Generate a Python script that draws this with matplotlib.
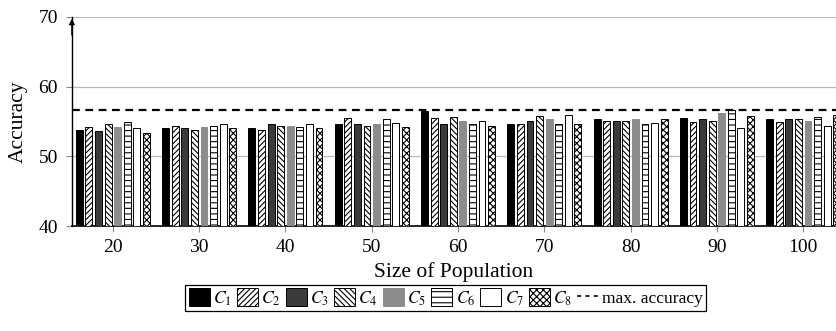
import numpy as np
import matplotlib
matplotlib.use('Agg')
import matplotlib.pyplot as plt
from matplotlib.patches import Patch
from matplotlib.lines import Line2D

plt.rcParams['font.family'] = ['Liberation Serif', 'DejaVu Serif']
plt.rcParams['mathtext.fontset'] = 'stix'
plt.rcParams['hatch.linewidth'] = 0.8

# population sizes
sizes = [20, 30, 40, 50, 60, 70, 80, 90, 100]

# accuracy per classifier
c1 = [53.8, 54.1, 54.0, 54.7, 56.5, 54.7, 55.3, 55.5, 55.3]
c2 = [54.2, 54.4, 53.8, 55.5, 55.5, 54.7, 55.0, 54.9, 54.9]
c3 = [53.7, 54.0, 54.6, 54.6, 54.6, 55.0, 55.0, 55.3, 55.3]
c4 = [54.6, 53.8, 54.4, 54.4, 55.6, 55.8, 55.0, 55.0, 55.3]
c5 = [54.2, 54.2, 54.4, 54.6, 55.1, 55.3, 55.3, 56.2, 55.0]
c6 = [54.9, 54.4, 54.2, 55.4, 54.6, 54.6, 54.6, 56.7, 55.6]
c7 = [54.1, 54.6, 54.6, 54.8, 55.0, 55.9, 54.8, 54.1, 54.4]
c8 = [53.3, 54.0, 54.1, 54.2, 54.4, 54.7, 55.3, 55.8, 56.0]
max_acc = 56.7

series = [c1, c2, c3, c4, c5, c6, c7, c8]
labels = [r'$C_{%d}$' % (i + 1) for i in range(8)]
faces = ['black', 'white', '#3a3a3a', 'white', '#8c8c8c', 'white', 'white', 'white']
edges = ['black', 'black', 'black', 'black', '#8c8c8c', 'black', 'black', 'black']
hatches = [None, '//////', None, '\\\\\\\\\\\\', None, '---', None, 'xxxxx']

fig = plt.figure(figsize=(8.36, 3.31), dpi=100)
ax = fig.add_axes([0.086, 0.317, 0.914, 0.632])

x = np.array(sizes, dtype=float)
step = 1.11
width = 0.8
for i, vals in enumerate(series):
    ax.bar(x + (i - 3.5) * step, np.array(vals) - 40, bottom=40, width=width,
           color=faces[i], edgecolor=edges[i], hatch=hatches[i], linewidth=0.7,
           zorder=3)

ax.axhline(max_acc, color='black', linestyle=(0, (3.5, 2.5)), linewidth=1.6, zorder=4)

ax.set_xlim(15.25, 103.8)
ax.set_ylim(40, 70)
ax.set_yticks([40, 50, 60, 70])
ax.set_xticks(sizes)
ax.yaxis.grid(True, color='#bbbbbb', linewidth=0.9, zorder=0)
ax.tick_params(axis='both', labelsize=14, color='#888888', length=4, width=0.8)
ax.tick_params(axis='y', pad=6)
ax.tick_params(axis='x', pad=5)

for s in ['top', 'right']:
    ax.spines[s].set_visible(False)
ax.spines['left'].set_linewidth(1.0)
ax.spines['bottom'].set_linewidth(1.2)
ax.annotate('', xy=(0, 1.005), xytext=(0, 0.9), xycoords='axes fraction',
            arrowprops=dict(arrowstyle='-|>', color='black', lw=1.0,
                            mutation_scale=8))

ax.set_xlabel('Size of Population', fontsize=15.5, labelpad=5)
ax.set_ylabel('Accuracy', fontsize=15.5, labelpad=8)

handles = [Patch(facecolor=faces[i], edgecolor=edges[i], hatch=hatches[i],
                 linewidth=0.7) for i in range(8)]
handles.append(Line2D([0], [0], color='black', linestyle=(0, (2.5, 2.5)), linewidth=1.2))
leg = fig.legend(handles, labels + ['max. accuracy'], loc='upper center',
                 bbox_to_anchor=(0.533, 0.139), ncol=9, fontsize=12.6,
                 handlelength=1.2, handleheight=1.2, handletextpad=0.2,
                 columnspacing=0.28, fancybox=False, edgecolor='black',
                 borderpad=0.2, borderaxespad=0, framealpha=1)
leg.get_frame().set_linewidth(0.9)

fig.savefig('out.png', dpi=100)
